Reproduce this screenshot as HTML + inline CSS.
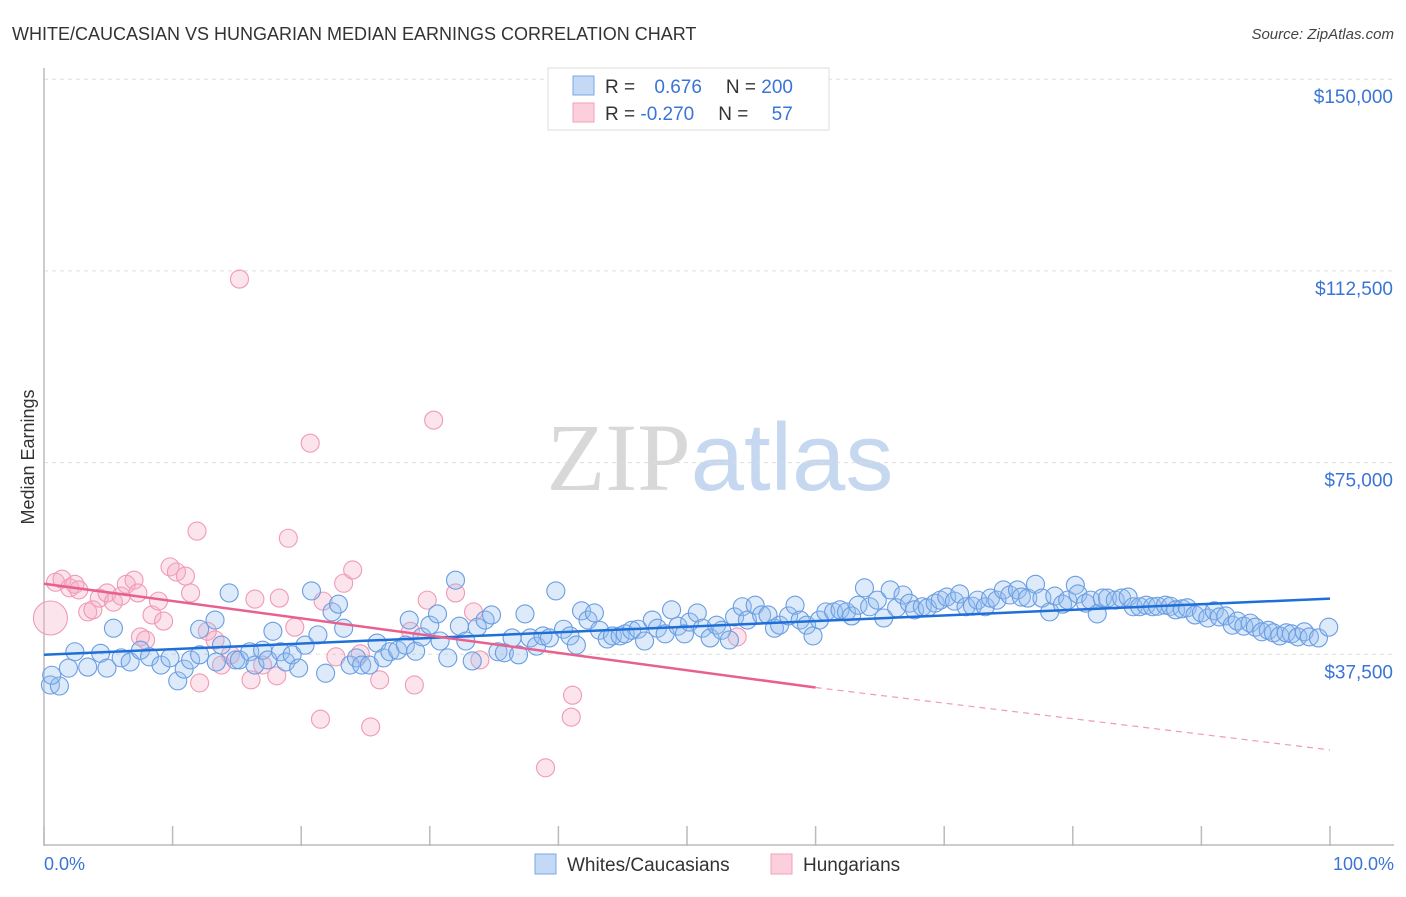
<!DOCTYPE html>
<html><head><meta charset="utf-8"><style>
body{margin:0;background:#fff;font-family:"Liberation Sans",sans-serif;}
svg text{font-family:"Liberation Sans",sans-serif;}
</style></head><body>
<svg id="chart" width="1406" height="892" viewBox="0 0 1406 892" xmlns="http://www.w3.org/2000/svg">
<text x="12" y="40" font-size="18" fill="#333">WHITE/CAUCASIAN VS HUNGARIAN MEDIAN EARNINGS CORRELATION CHART</text>
<text x="1394" y="39" font-size="15" fill="#444" text-anchor="end" font-style="italic">Source: ZipAtlas.com</text>
<text x="720" y="490" font-size="96" text-anchor="middle"><tspan fill="#d8d8d8" font-family="Liberation Serif">ZIP</tspan><tspan fill="#c5d8f0">atlas</tspan></text>
<g id="grid"></g>
<g id="axes"></g>
<g id="pink"></g>
<g id="blue"></g>
<g id="trends"></g>
<text transform="translate(34,457) rotate(-90)" font-size="18" fill="#333" text-anchor="middle">Median Earnings</text>
<text x="44" y="870" font-size="18" fill="#3a74d6">0.0%</text>
<text x="1394" y="870" font-size="18" fill="#3a74d6" text-anchor="end">100.0%</text>
<g>
<rect x="548" y="68" width="281" height="62" fill="#fff" stroke="#ddd"/>
<rect x="573" y="76" width="21" height="19" fill="#c4d9f5" stroke="#7aa7e6"/>
<rect x="573" y="103" width="21" height="19" fill="#fbd0dc" stroke="#f0a0b8"/>
<text x="605" y="93" font-size="19" fill="#333">R = <tspan fill="#3a74d6" dx="14">0.676</tspan><tspan dx="24" fill="#333">N = </tspan><tspan fill="#3a74d6">200</tspan></text>
<text x="605" y="120" font-size="19" fill="#333">R = <tspan fill="#3a74d6">-0.270</tspan><tspan dx="24" fill="#333">N = </tspan><tspan fill="#3a74d6" dx="18">57</tspan></text>
</g>
<g>
<rect x="535" y="854" width="21" height="20" fill="#c4d9f5" stroke="#7aa7e6"/>
<text x="567" y="871" font-size="19" fill="#333">Whites/Caucasians</text>
<rect x="771" y="854" width="21" height="20" fill="#fbd0dc" stroke="#f0a0b8"/>
<text x="803" y="871" font-size="19" fill="#333">Hungarians</text>
</g>
</svg>
<script>
const yTicks=[37500,75000,112500,150000];
const yTickLabels=["$37,500","$75,000","$112,500","$150,000"];
const blueX=[0.5,1.2,0.6,2.4,1.9,3.4,4.4,4.9,5.4,6,6.7,7.5,8.2,9.1,9.8,10.4,10.9,11.4,12.1,12.1,13.4,13.3,13.8,14.4,14.9,15.2,16,16.4,17,17.4,17.8,18.4,18.8,19.3,19.8,20.3,20.8,21.3,21.9,22.4,22.9,23.3,23.8,24.3,24.7,25.3,25.9,26.4,26.9,27.5,28.1,28.4,28.9,29.4,30,30.6,30.8,31.4,32,32.3,32.8,33.3,33.7,34.3,34.8,35.3,35.8,36.4,36.9,37.4,37.8,38.3,38.8,39.3,39.8,40.4,40.9,41.4,41.8,42.3,42.8,43.2,43.8,44.2,44.8,45.2,45.7,46.2,46.7,47.3,47.7,48.3,48.8,49.3,49.8,50.2,50.8,51.2,51.8,52.3,52.7,53.3,53.7,54.3,54.7,55.3,55.8,56.3,56.8,57.2,57.9,58.4,58.8,59.3,59.8,60.3,60.8,61.4,61.9,62.4,62.8,63.3,63.8,64.2,64.8,65.3,65.8,66.3,66.8,67.3,67.7,68.3,68.7,69.3,69.7,70.2,70.8,71.2,71.7,72.2,72.6,73.2,73.6,74.1,74.6,75.1,75.7,76,76.5,77.1,77.6,78.2,78.6,79.2,79.6,80.2,80.4,81,81.4,81.9,82.3,82.7,83.3,83.8,84.3,84.7,85.2,85.7,86.2,86.6,87.2,87.6,88,88.5,88.9,89.5,90,90.5,91,91.4,91.9,92.4,92.8,93.3,93.8,94.2,94.7,95.2,95.6,96.1,96.6,97,97.5,98,98.4,99.1,99.9];
const blueY=[31.5,31.3,33.4,38,34.8,35,37.7,34.8,42.6,36.8,36,38.3,37,35.4,36.8,32.3,34.6,36.4,37.4,42.4,36,44.2,39.3,49.5,36.4,36.4,38,35.4,38.3,36.4,42,38,36,37.4,34.8,39.3,49.9,41.3,33.8,45.8,47.3,42.6,35.4,36.8,35.4,35.4,39.7,36.8,38,38.3,39.3,44.2,38.1,40.9,43.2,45.4,40.1,36.8,52,43,40.1,36.2,42.8,44.2,45.2,38,37.8,40.7,37.4,45.4,40.7,39.1,41.1,40.7,49.9,42.4,41.1,39.3,46,44.2,45.6,42.2,40.5,41.1,41.1,41.5,42.2,42.4,40.1,44.2,42.6,41.5,46.2,43,41.5,43.8,45.6,42.6,40.7,43.2,42.2,40.3,44.8,46.8,44.2,47.1,45.2,45.2,42.6,43.2,45,47.1,44.2,43.2,41.1,44.2,45.8,45.8,46.2,45.8,45,47.1,50.5,46.8,48.1,44.6,50.1,46.6,49.1,47.5,46.2,46.8,46.6,47.5,48.1,48.7,47.9,49.3,46.8,46.9,48.1,46.8,48.5,48.1,50.1,49.1,50.1,48.7,48.5,51.2,48.5,45.8,48.9,47.3,48.1,51,49.3,47.5,48.1,45.4,48.5,48.5,48.1,48.5,48.7,46.8,46.8,47.1,46.8,46.9,47.1,46.9,46.2,46.4,46.6,45.2,45.6,44.6,46,44.8,45,43.2,44,43,43.6,42.8,41.9,42.2,41.7,41.1,41.7,41.5,40.9,41.9,40.9,40.7,42.8];
const pinkX=[0.5,0.9,1.4,2,2.4,2.7,3.4,3.8,4.3,4.9,5.4,6,6.4,7,7.3,7.5,7.9,8.4,8.9,9.3,9.8,10.3,11,11.4,11.9,12.1,12.7,13.3,13.8,14.5,15.2,16.1,16.4,17,18.1,18.3,19,19.5,20.7,21.5,21.7,22.7,23.3,24,24.6,25.4,26.1,28.5,28.8,29.8,30.3,32,33.4,33.9,39,41,41.1,53.9];
const pinkY=[44.6,51.6,52.2,50.5,51.2,50.1,45.8,46.2,48.5,49.5,47.7,48.9,51.2,52,49.5,40.9,40.3,45.2,47.9,44,54.6,53.6,52.8,49.5,61.6,31.9,42,40.3,35.4,37.4,110.9,32.5,48.3,35.4,33.3,48.5,60.2,42.8,78.8,24.8,47.9,37,51.4,54,37.6,23.3,32.5,42,31.5,48.1,83.3,49.5,45.8,36.4,15.3,25.2,29.5,40.9];
const blueTrend=[[0,37.4],[100,48.4]];
const pinkTrend=[[0,51.3],[60,31.0],[100,18.8]];

const NS="http://www.w3.org/2000/svg";
const X0=44,X1=1330,Y0=846,PXK=191.7/37.5;
const xs=p=>X0+(X1-X0)*p/100;
const ys=k=>Y0-k*PXK;
function mk(tag,attrs,parent){const e=document.createElementNS(NS,tag);for(const k in attrs)e.setAttribute(k,attrs[k]);parent.appendChild(e);return e;}
const grid=document.getElementById('grid'),axes=document.getElementById('axes');
yTicks.forEach((t,i)=>{
  const y=ys(t/1000);
  const l=mk('line',{x1:44,x2:1394,y1:y,y2:y,stroke:'#ddd','stroke-dasharray':'4,4'},grid);
  
  
  const tx=mk('text',{x:1393,y:y+24,'font-size':19,fill:'#3a74d6','text-anchor':'end'},axes);
  tx.textContent=yTickLabels[i];
  
  
});
const ay=mk('line',{x1:44,x2:44,y1:68,y2:846,stroke:'#bbb','stroke-width':1.5},axes);


const ax=mk('line',{x1:44,x2:1394,y1:845,y2:845,stroke:'#bbb','stroke-width':1.5},axes);


for(let i=0;i<=10;i++){const x=xs(i*10);const t=mk('line',{x1:x,x2:x,y1:826,y2:846,stroke:'#bbb','stroke-width':1.5},axes);
  
  }
const pg=document.getElementById('pink');
pinkX.forEach((p,i)=>{const c=mk('circle',{cx:xs(p),cy:ys(pinkY[i]),r:i===0?17:9,fill:'rgba(246,170,195,0.32)',stroke:'#f09ab5','stroke-width':1.1},pg);
  
  });
const bg=document.getElementById('blue');
blueX.forEach((p,i)=>{const c=mk('circle',{cx:xs(p),cy:ys(blueY[i]),r:9,fill:'rgba(150,190,240,0.32)',stroke:'#6a9de2','stroke-width':1.1},bg);
  
  });
const tg=document.getElementById('trends');
const bt=mk('line',{x1:xs(blueTrend[0][0]),y1:ys(blueTrend[0][1]),x2:xs(blueTrend[1][0]),y2:ys(blueTrend[1][1]),stroke:'#1f6fd8','stroke-width':2.5},tg);


const pt=mk('line',{x1:xs(pinkTrend[0][0]),y1:ys(pinkTrend[0][1]),x2:xs(pinkTrend[1][0]),y2:ys(pinkTrend[1][1]),stroke:'#e8608e','stroke-width':2.5},tg);


const pd=mk('line',{x1:xs(pinkTrend[1][0]),y1:ys(pinkTrend[1][1]),x2:xs(pinkTrend[2][0]),y2:ys(pinkTrend[2][1]),stroke:'#f09ab5','stroke-width':1.2,'stroke-dasharray':'6,5'},tg);


</script>
</body></html>
